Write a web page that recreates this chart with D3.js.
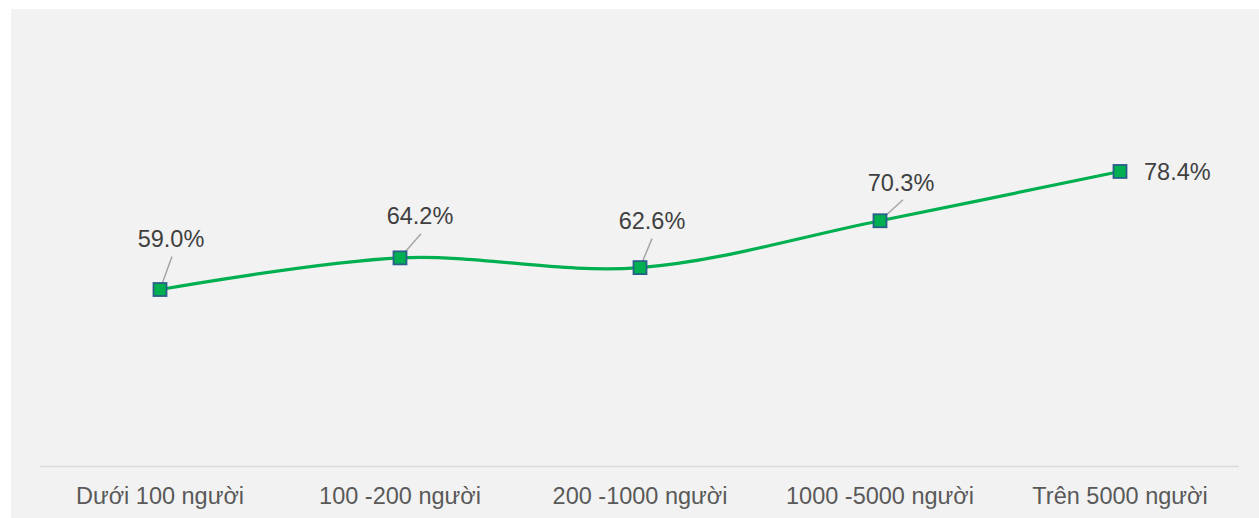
<!DOCTYPE html>
<html><head><meta charset="utf-8">
<script src="https://cdn.jsdelivr.net/npm/d3@7"></script>
<style>body{margin:0;background:#fff}svg{display:block}text{font-family:"Liberation Sans",Arial,sans-serif}</style>
</head><body>
<svg id="c" width="1259" height="518"></svg>
<script>
const categories = ["Dưới 100 người","100 -200 người","200 -1000 người","1000 -5000 người","Trên 5000 người"];
const values = [0.590, 0.642, 0.626, 0.703, 0.784];
const labels = ["59.0%","64.2%","62.6%","70.3%","78.4%"];
const labelOffsets = [[11,-51],[20,-42],[12,-47],[21,-38],[24,1]];
const leaderEnds = [[12,-33],[21,-24],[12,-29],[23,-21],null];

const svg = d3.select("#c");
svg.append("rect").attr("x",11).attr("y",9).attr("width",1248).attr("height",509).attr("fill","#f2f2f2");

const x = d3.scaleBand().domain(categories).range([40,1240]);
const y = d3.scaleLinear().domain([0.3,1.0]).range([466,40]);
const cx = d => x(d) + x.bandwidth()/2;

svg.append("line").attr("x1",40).attr("x2",1239).attr("y1",466.5).attr("y2",466.5)
  .attr("stroke","#d9d9d9").attr("stroke-width",1.3);

const ax = svg.append("g").attr("transform","translate(0,466)")
  .call(d3.axisBottom(x).tickSize(0).tickPadding(21));
ax.select(".domain").remove();
ax.selectAll("text").attr("font-size",23.5).attr("fill","#595959")
  .style("font-family","'Liberation Sans',Arial,sans-serif");

const pts = categories.map((c,i)=>[cx(c), y(values[i])]);
svg.append("path").datum(pts)
  .attr("d", d3.line().curve(d3.curveCardinal.tension(0)))
  .attr("fill","none").attr("stroke","#00b050").attr("stroke-width",3.2);

pts.forEach((p,i)=>{
  const e = leaderEnds[i];
  if(!e) return;
  svg.append("line").attr("x1",p[0]).attr("y1",p[1]).attr("x2",p[0]+e[0]).attr("y2",p[1]+e[1])
    .attr("stroke","#a6a6a6").attr("stroke-width",1.5);
});

svg.selectAll("rect.m").data(pts).join("rect").attr("class","m")
  .attr("x",d=>d[0]-6.5).attr("y",d=>d[1]-6.5).attr("width",13).attr("height",13)
  .attr("fill","#00b050").attr("stroke","#2a5f8a").attr("stroke-width",1.8);

svg.selectAll("text.lbl").data(pts).join("text").attr("class","lbl")
  .attr("x",(d,i)=>d[0]+labelOffsets[i][0]).attr("y",(d,i)=>d[1]+labelOffsets[i][1])
  .attr("text-anchor",(d,i)=>i===4?"start":"middle")
  .attr("dominant-baseline","central")
  .attr("font-size",23.5).attr("fill","#404040")
  .text((d,i)=>labels[i]);
</script>
</body></html>
